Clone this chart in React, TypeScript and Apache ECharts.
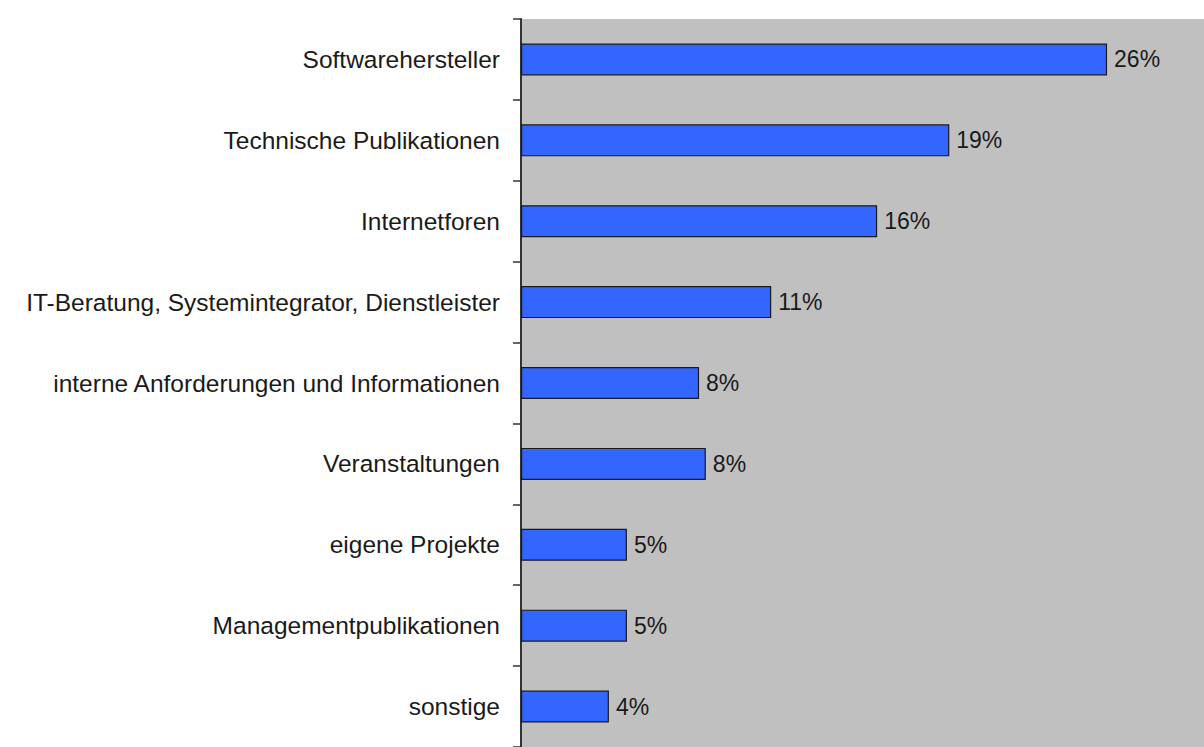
import React, { useEffect, useRef } from "react";
import * as echarts from "echarts";

const categories = [
  "Softwarehersteller",
  "Technische Publikationen",
  "Internetforen",
  "IT-Beratung, Systemintegrator, Dienstleister",
  "interne Anforderungen und Informationen",
  "Veranstaltungen",
  "eigene Projekte",
  "Managementpublikationen",
  "sonstige",
];

const shares = [26.0, 19.0, 15.8, 11.1, 7.9, 8.2, 4.7, 4.7, 3.9];

const FONT = "'Liberation Sans', Arial, sans-serif";

export default function App() {
  const ref = useRef<HTMLDivElement>(null);

  useEffect(() => {
    if (!ref.current) return;
    const chart = echarts.init(ref.current, undefined, { renderer: "svg" });
    chart.setOption({
      animation: false,
      backgroundColor: "#ffffff",
      grid: {
        left: 521,
        right: 0,
        top: 19,
        bottom: -5,
        show: true,
        backgroundColor: "#c0c0c0",
        borderWidth: 0,
        containLabel: false,
      },
      xAxis: {
        type: "value",
        min: 0,
        max: 30.3,
        show: false,
        splitLine: { show: false },
      },
      yAxis: {
        type: "category",
        data: categories,
        inverse: true,
        axisLine: { show: true, lineStyle: { color: "#333333", width: 2 } },
        axisTick: { show: true, length: 8, lineStyle: { color: "#333333", width: 1.5 } },
        axisLabel: {
          margin: 21,
          fontSize: 24.5,
          color: "#1a1a1a",
          fontFamily: FONT,
        },
        splitLine: { show: false },
      },
      series: [
        {
          type: "bar",
          data: shares,
          barWidth: 32,
          itemStyle: {
            color: "#3366ff",
            borderColor: "#1a1a1a",
            borderWidth: 1.2,
          },
          label: {
            show: true,
            position: "right",
            distance: 7,
            fontSize: 23,
            color: "#1a1a1a",
            fontFamily: FONT,
            formatter: (p: any) => Math.round(p.value) + "%",
          },
        },
      ],
    });
    return () => chart.dispose();
  }, []);

  return (
    <div
      ref={ref}
      style={{ position: "absolute", left: 0, top: 0, width: 1204, height: 747, background: "#fff" }}
    />
  );
}
